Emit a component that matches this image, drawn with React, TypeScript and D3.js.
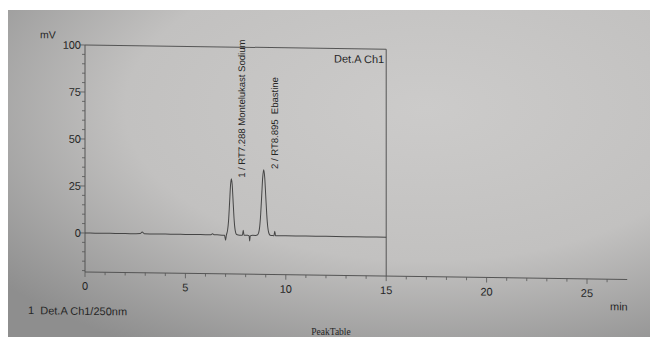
import React, { useRef, useEffect } from "react";
import * as d3 from "d3";

// chromatogram trace (min, mV)
const times = [
  0, 0.5, 1, 1.5, 2, 2.5, 2.75, 2.85, 2.95, 3.5, 4, 4.5, 5, 5.5, 6, 6.25, 6.35, 6.45,
  6.7, 6.95, 7.0, 7.04, 7.1, 7.15, 7.2, 7.25, 7.29, 7.33, 7.38, 7.43, 7.48, 7.55,
  7.7, 7.84, 7.88, 7.92, 8.1, 8.17, 8.2, 8.23, 8.35, 8.5, 8.58, 8.65, 8.7, 8.75,
  8.8, 8.85, 8.9, 8.95, 9.0, 9.05, 9.1, 9.15, 9.22, 9.35, 9.41, 9.45, 9.49, 9.7,
  10, 11, 12, 13, 14, 15,
];
const signal = [
  0, 0, 0, 0, 0, 0, 0.1, 1.0, 0.1, 0, 0, 0, 0, 0, 0, 0, 0.5, 0,
  0, -0.2, -2.8, -0.1, 2.5, 7.7, 17.1, 26.9, 30, 26.9, 17.1, 7.7, 2.5, 0.3,
  0, 0, 2.6, 0, 0, -0.2, -3.0, -0.3, 0, 0, 0.2, 1.5, 4.7, 11.4,
  21.2, 30.9, 35, 30.9, 21.2, 11.4, 4.7, 1.5, 0.2, 0, 0, 2.4, 0, 0,
  0, 0, 0, 0, 0, 0,
];

const peakRT = [7.288, 8.895];
const peakTop = [30, 35];
const peakNames = ["1 / RT7.288 Montelukast Sodium", "2 / RT8.895  Ebastine"];

const xTicks = [0, 5, 10, 15, 20, 25];
const yTicks = [0, 25, 50, 75, 100];

const Chromatogram = () => {
  const ref = useRef<SVGSVGElement>(null);

  const draw = (elt: SVGSVGElement) => {
    const W = 650;
    const H = 337;
    const svg = d3.select(elt);
    svg.selectAll("*").remove();

    // paper photo background
    const defs = svg.append("defs");
    const grad = defs
      .append("radialGradient")
      .attr("id", "paper")
      .attr("cx", "0.65")
      .attr("cy", "0.3")
      .attr("r", "0.85");
    grad.append("stop").attr("offset", "0").attr("stop-color", "#cccbca");
    grad.append("stop").attr("offset", "0.55").attr("stop-color", "#c2c1c0");
    grad.append("stop").attr("offset", "1").attr("stop-color", "#8e8e8e");

    svg.append("rect").attr("width", W).attr("height", H).attr("fill", "#ffffff");
    svg
      .append("rect")
      .attr("x", 8)
      .attr("y", 10)
      .attr("width", W - 8)
      .attr("height", H - 10)
      .attr("fill", "url(#paper)");

    const font = "'Liberation Sans', Arial, sans-serif";
    const ink = "#262626";
    const line = "#555555";

    const x = d3.scaleLinear().domain([0, 25]).range([85, 587]);
    const y = d3.scaleLinear().domain([0, 100]).range([233, 45]);
    const yMin = -20.7;
    const xEnd = 27;

    // the print slopes down to the right in the photo
    const g = svg
      .append("g")
      .attr("transform", `translate(${x(0)},0) skewY(0.8) translate(${-x(0)},0)`);

    // frame: top and right edge of the plot box
    g.append("line")
      .attr("x1", x(0)).attr("x2", x(15))
      .attr("y1", y(100)).attr("y2", y(100))
      .attr("stroke", line).attr("stroke-width", 1);
    g.append("line")
      .attr("x1", x(15)).attr("x2", x(15))
      .attr("y1", y(100)).attr("y2", y(yMin))
      .attr("stroke", line).attr("stroke-width", 1);

    // y axis
    g.append("line")
      .attr("x1", x(0)).attr("x2", x(0))
      .attr("y1", y(100)).attr("y2", y(yMin))
      .attr("stroke", line).attr("stroke-width", 1);
    const yMinor = d3.range(-20, 101, 5);
    g.append("g")
      .selectAll("line")
      .data(yMinor)
      .enter()
      .append("line")
      .attr("x1", (d) => x(0) - (d % 25 === 0 ? 5 : 3))
      .attr("x2", x(0))
      .attr("y1", (d) => y(d))
      .attr("y2", (d) => y(d))
      .attr("stroke", line)
      .attr("stroke-width", 0.8);
    g.append("g")
      .selectAll("text")
      .data(yTicks)
      .enter()
      .append("text")
      .attr("x", x(0) - 4)
      .attr("y", (d) => y(d) + 4)
      .attr("text-anchor", "end")
      .attr("font-family", font)
      .attr("font-size", 11)
      .attr("fill", ink)
      .text((d) => d);

    // x axis
    g.append("line")
      .attr("x1", x(0)).attr("x2", x(xEnd))
      .attr("y1", y(yMin)).attr("y2", y(yMin))
      .attr("stroke", line).attr("stroke-width", 1);
    const xMinor = d3.range(0, 27, 1);
    g.append("g")
      .selectAll("line")
      .data(xMinor)
      .enter()
      .append("line")
      .attr("x1", (d) => x(d))
      .attr("x2", (d) => x(d))
      .attr("y1", y(yMin))
      .attr("y2", (d) => y(yMin) + (d % 5 === 0 ? 5 : 3))
      .attr("stroke", line)
      .attr("stroke-width", 0.8);
    g.append("g")
      .selectAll("text")
      .data(xTicks)
      .enter()
      .append("text")
      .attr("x", (d) => x(d))
      .attr("y", y(yMin) + 18)
      .attr("text-anchor", "middle")
      .attr("font-family", font)
      .attr("font-size", 11)
      .attr("fill", ink)
      .text((d) => d);

    // trace
    const pts = times.map((t, i) => [t, signal[i]] as [number, number]);
    g.append("path")
      .datum(pts)
      .attr("fill", "none")
      .attr("stroke", "#454545")
      .attr("stroke-width", 1)
      .attr(
        "d",
        d3.line<[number, number]>()
          .x((d) => x(d[0]))
          .y((d) => y(d[1]))
          .curve(d3.curveMonotoneX)
      );

    // peak labels, vertical
    g.append("g")
      .selectAll("text")
      .data(peakRT)
      .enter()
      .append("text")
      .attr("transform", (d, i) => `translate(${x(d) + 14}, ${y(peakTop[i]) - 1}) rotate(-90)`)
      .attr("font-family", font)
      .attr("font-size", 9.5)
      .attr("fill", ink)
      .style("white-space", "pre")
      .text((d, i) => peakNames[i]);

    g.append("text")
      .attr("x", x(15) - 2)
      .attr("y", y(100) + 14)
      .attr("text-anchor", "end")
      .attr("font-family", font)
      .attr("font-size", 11)
      .attr("fill", ink)
      .text("Det.A Ch1");

    g.append("text")
      .attr("x", 40)
      .attr("y", y(100) - 6)
      .attr("font-family", font)
      .attr("font-size", 10.5)
      .attr("fill", ink)
      .text("mV");

    g.append("text")
      .attr("x", 610)
      .attr("y", y(yMin) + 31)
      .attr("font-family", font)
      .attr("font-size", 11)
      .attr("fill", ink)
      .text("min");

    g.append("text")
      .attr("x", 28)
      .attr("y", y(yMin) + 43)
      .attr("font-family", font)
      .attr("font-size", 11)
      .attr("fill", ink)
      .style("white-space", "pre")
      .text("1  Det.A Ch1/250nm");

    svg
      .append("text")
      .attr("x", 331)
      .attr("y", 335)
      .attr("text-anchor", "middle")
      .attr("font-family", "'Liberation Serif', serif")
      .attr("font-size", 9.5)
      .attr("fill", ink)
      .text("PeakTable");
  };

  useEffect(() => {
    if (ref.current) draw(ref.current);
  }, []);

  return (
    <svg
      ref={ref}
      width={650}
      height={337}
      style={{ position: "absolute", left: 0, top: 0, display: "block" }}
    />
  );
};

export default function App() {
  return <Chromatogram />;
}
